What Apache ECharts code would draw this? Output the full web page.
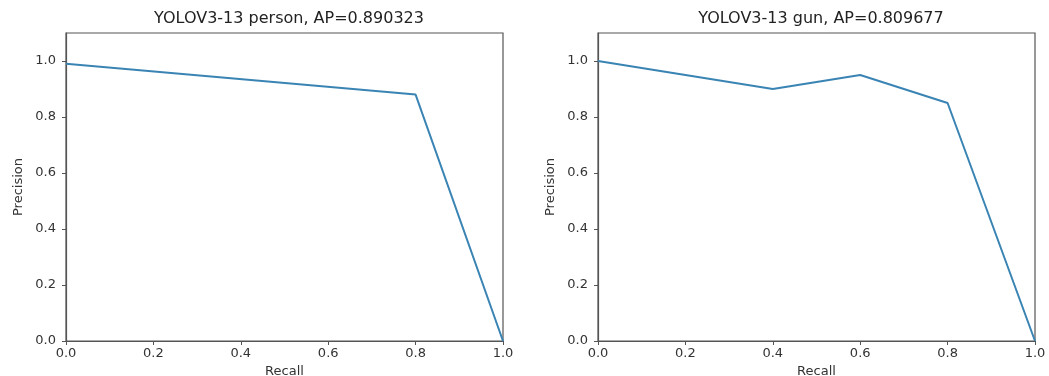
<!DOCTYPE html>
<html><head><meta charset="utf-8">
<script src="https://cdn.jsdelivr.net/npm/echarts@6/dist/echarts.min.js"></script>
<style>html,body{margin:0;padding:0;background:#fff}#c{width:1049px;height:376px}</style>
</head><body><div id="c"></div>
<script>
const titles = ['YOLOV3-13 person, AP=0.890323', 'YOLOV3-13 gun, AP=0.809677'];
const personRecall = [0.0, 0.8, 1.0];
const personPrecision = [0.99, 0.88, 0.0];
const gunRecall = [0.0, 0.4, 0.6, 0.8, 1.0];
const gunPrecision = [1.0, 0.9, 0.95, 0.85, 0.0];
const xTicks = [0, 0.2, 0.4, 0.6, 0.8, 1.0];
const yTicks = [0, 0.2, 0.4, 0.6, 0.8, 1.0];

const font = 'DejaVu Sans';
const chart = echarts.init(document.getElementById('c'));
const grids = [
  {left: 66, right: 546, top: 33, bottom: 35},
  {left: 598, right: 14, top: 33, bottom: 35}
];
function xAx(i){return {
  type:'value', gridIndex:i, min:0, max:1, interval:0.2,
  name:'Recall', nameLocation:'middle', nameGap:24,
  nameTextStyle:{fontFamily:font,fontSize:13,color:'#333'},
  axisLine:{show:true,lineStyle:{color:'#555',width:1.2}},
  axisTick:{show:true,length:4,lineStyle:{color:'#555'},customValues:xTicks},
  axisLabel:{fontFamily:font,fontSize:13,color:'#333',margin:6,customValues:xTicks,formatter:v=>v.toFixed(1)},
  splitLine:{show:false}
};}
function yAx(i){return {
  type:'value', gridIndex:i, min:0, max:1.1, interval:0.2,
  name:'Precision', nameLocation:'middle', nameGap:41,
  nameTextStyle:{fontFamily:font,fontSize:13,color:'#333'},
  axisLine:{show:true,lineStyle:{color:'#555',width:1.2}},
  axisTick:{show:true,length:4,lineStyle:{color:'#555'},customValues:yTicks},
  axisLabel:{fontFamily:font,fontSize:13,color:'#333',margin:10,customValues:yTicks,formatter:v=>v.toFixed(1)},
  splitLine:{show:false}
};}
chart.setOption({
  animation:false,
  title:[
    {text:titles[0], left:284, top:6, textAlign:'center', textStyle:{fontFamily:font,fontSize:16,fontWeight:'normal',color:'#222'}},
    {text:titles[1], left:816, top:6, textAlign:'center', textStyle:{fontFamily:font,fontSize:16,fontWeight:'normal',color:'#222'}}
  ],
  grid: grids.map(g=>Object.assign({show:true,borderColor:'#555',borderWidth:1.2,backgroundColor:'transparent',outerBoundsMode:'none',containLabel:false},g)),
  xAxis:[xAx(0),xAx(1)],
  yAxis:[yAx(0),yAx(1)],
  series:[
    {type:'line', xAxisIndex:0, yAxisIndex:0, data:personRecall.map((r,i)=>[r,personPrecision[i]]),
     showSymbol:false, lineStyle:{color:'#3a84b4',width:2}},
    {type:'line', xAxisIndex:1, yAxisIndex:1, data:gunRecall.map((r,i)=>[r,gunPrecision[i]]),
     showSymbol:false, lineStyle:{color:'#3a84b4',width:2}}
  ]
});
</script></body></html>
